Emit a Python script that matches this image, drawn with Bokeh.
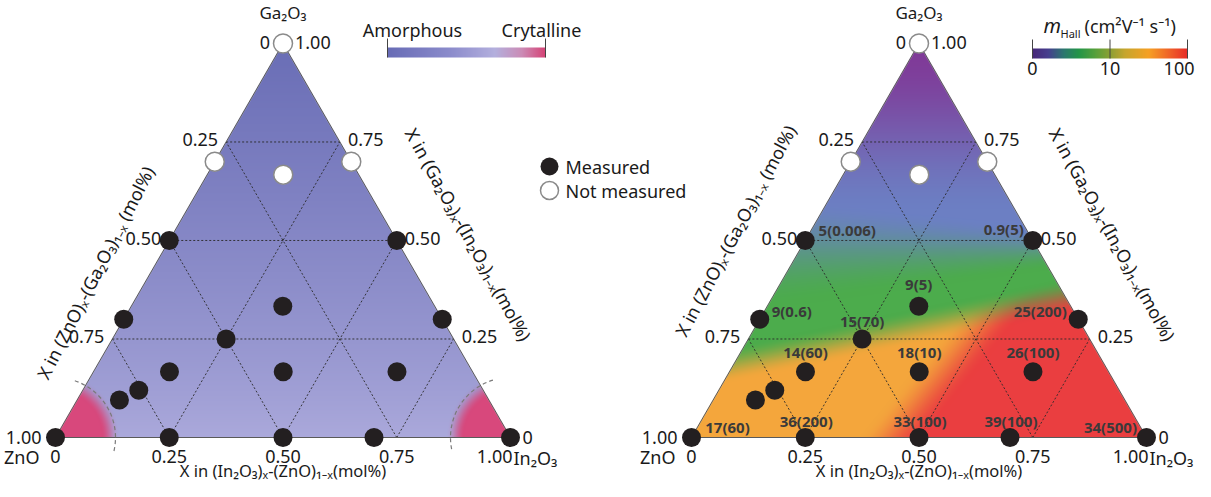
import math
import numpy as np
from bokeh.plotting import figure
from bokeh.models import Range1d
from bokeh.core.properties import value
from bokeh.embed import file_html
from bokeh.resources import INLINE

# ------------------------------------------------------------------ data
# composition of each film: fraction of In2O3 and of Ga2O3 (ZnO = rest)
measured_in2o3 = [0.0, 0.25, 0.50, 0.70, 1.00, 0.167, 0.417, 0.667, 0.25, 0.333, 0.0, 0.70, 0.0, 0.50, 0.093, 0.123]
measured_ga2o3 = [0.0, 0.0, 0.0, 0.0, 0.0, 0.167, 0.167, 0.167, 0.25, 0.333, 0.30, 0.30, 0.50, 0.50, 0.095, 0.12]
mobility_labels = ["17(60)", "36(200)", "33(100)", "39(100)", "34(500)", "14(60)", "18(10)", "26(100)",
                   "15(70)", "9(5)", "9(0.6)", "25(200)", "5(0.006)", "0.9(5)", "", ""]
unmeasured_in2o3 = [0.0, 0.0, 0.30, 0.167]
unmeasured_ga2o3 = [1.0, 0.70, 0.70, 0.667]

grid_levels = [0.25, 0.50, 0.75]
bottom_ticks = [0.0, 0.25, 0.50, 0.75, 1.00]
bottom_tick_labels = ["0", "0.25", "0.50", "0.75", "1.00"]
left_edge_ticks = [0.75, 0.50, 0.25]          # Ga2O3 fraction along ZnO-Ga2O3 edge
left_edge_labels = ["0.25", "0.50", "0.75"]   # ZnO fraction shown
right_edge_ticks = [0.75, 0.50, 0.25]
right_edge_labels = ["0.75", "0.50", "0.25"]
mobility_bar_ticks = [0.0, 0.5, 1.0]
mobility_bar_labels = ["0", "10", "100"]
crystal_bar_labels = ["Amorphous", "Crytalline"]
legend_labels = ["Measured", "Not measured"]

# ------------------------------------------------------------------ layout
FONT = "Noto Sans"
W = 455.0
H = W * math.sqrt(3) / 2
BASE = 497 - 443          # data y of triangle bases
PANELS = [61.0, 697.0]    # x of ZnO corner for each panel


def Y(img_y):
    return 497 - img_y


def tern(a, g, x0):
    return x0 + W * (a + g / 2.0), BASE + H * g


p = figure(width=1195, height=481, x_range=Range1d(6, 1201), y_range=Range1d(10, 491),
           output_backend="svg", toolbar_location=None, min_border=0,
           x_axis_location=None, y_axis_location=None, outline_line_color=None)
p.xgrid.visible = False
p.ygrid.visible = False


def put(x, y, s, size=17, align="center", baseline="middle", angle=0.0, color="#1a1a1a", style="normal"):
    p.text(x=[x], y=[y], text=[s], text_font=value(FONT), text_font_size=value(f"{size}px"),
           text_align=align, text_baseline=baseline, angle=angle, text_color=color,
           text_font_style=style)


def smooth(e0, e1, x):
    t = np.clip((x - e0) / (e1 - e0), 0, 1)
    return t * t * (3 - 2 * t)


def rgba_image(r, g, b, a):
    ny, nx = r.shape
    img = np.empty((ny, nx), dtype=np.uint32)
    v = img.view(dtype=np.uint8).reshape((ny, nx, 4))
    v[:, :, 0] = np.clip(r, 0, 255)
    v[:, :, 1] = np.clip(g, 0, 255)
    v[:, :, 2] = np.clip(b, 0, 255)
    v[:, :, 3] = np.clip(a * 255, 0, 255)
    return img


def tri_field(x0):
    nx, ny = int(W) + 4, int(H) + 4
    xs = x0 - 2 + np.arange(nx) + 0.5
    ys = BASE - 2 + np.arange(ny) + 0.5
    X, Yg = np.meshgrid(xs, ys)
    s60, c60 = math.sin(math.pi / 3), math.cos(math.pi / 3)
    d_base = Yg - BASE
    d_left = (X - x0) * s60 - (Yg - BASE) * c60
    d_right = -(X - x0 - W) * s60 - (Yg - BASE) * c60
    alpha = np.clip(np.minimum(np.minimum(d_base, d_left), d_right) + 0.5, 0, 1)
    u = (X - x0) / W
    g = (Yg - BASE) / H
    return X, Yg, u, g, alpha, (x0 - 2, BASE - 2, nx, ny)


def mix(c1, c2, t):
    return [c1[i] + (c2[i] - c1[i]) * t for i in range(3)]


# ---------------- left panel background (crystallinity)
X, Yg, u, g, alpha, (ix, iy, nx, ny) = tri_field(PANELS[0])
top, bot, pink = (106, 110, 182), (172, 170, 220), (216, 72, 124)
col = mix(bot, top, np.clip(g, 0, 1) ** 0.8)
dL = np.hypot(X - PANELS[0], Yg - BASE)
dR = np.hypot(X - PANELS[0] - W, Yg - BASE)
pk = np.maximum(1 - smooth(46, 64, dL), 1 - smooth(46, 64, dR))
col = mix(col, pink, pk)
p.image_rgba(image=[rgba_image(*col, alpha)], x=ix, y=iy, dw=nx, dh=ny)

# ---------------- right panel background (mobility)
X, Yg, u, g, alpha, (ix, iy, nx, ny) = tri_field(PANELS[1])
purple, blue, green = (128, 58, 152), (108, 128, 196), (76, 172, 76)
orange, red = (244, 166, 60), (234, 62, 64)
c_up = mix(blue, purple, smooth(0.55, 1.0, g))
bg_c = 0.47 + 0.01 * u
bg_w = 0.17 - 0.15 * np.clip(u, 0, 1)
t_g = 1 - smooth(bg_c - bg_w, bg_c + bg_w, g)
c_mid = mix(c_up, green, t_g)
u_or = 0.44 + 0.7 * g
c_low = mix(orange, red, smooth(u_or - 0.07, u_or + 0.07, u))
h_go = 0.165 + 0.235 * u
t_o = 1 - smooth(h_go - 0.045, h_go + 0.045, g)
col = mix(c_mid, c_low, t_o)
p.image_rgba(image=[rgba_image(*col, alpha)], x=ix, y=iy, dw=nx, dh=ny)

# ---------------- per panel structure
for pi, x0 in enumerate(PANELS):
    # dotted grid
    gx, gy = [], []
    for k in grid_levels:
        for (a1, g1, a2, g2) in [(0, k, 1 - k, k), (k, 0, k, 1 - k), (1 - k, 0, 0, 1 - k)]:
            xa, ya = tern(a1, g1, x0)
            xb, yb = tern(a2, g2, x0)
            gx.append([xa, xb])
            gy.append([ya, yb])
    p.multi_line(gx, gy, line_color="#2a2a2a", line_dash="2 2", line_width=1, line_alpha=0.9)
    # outline
    vx = [tern(0, 0, x0)[0], tern(1, 0, x0)[0], tern(0, 1, x0)[0], tern(0, 0, x0)[0]]
    vy = [tern(0, 0, x0)[1], tern(1, 0, x0)[1], tern(0, 1, x0)[1], tern(0, 0, x0)[1]]
    p.line(vx, vy, line_color="#5a5a5a", line_width=1)

    if pi == 0:
        p.arc(x=[x0], y=[BASE], radius=60, start_angle=math.radians(-13), end_angle=math.radians(73),
              line_color="#7a7a7a", line_dash="4 3", line_width=1.2)
        p.arc(x=[x0 + W], y=[BASE], radius=60, start_angle=math.radians(107), end_angle=math.radians(193),
              line_color="#7a7a7a", line_dash="4 3", line_width=1.2)

    # points
    mx = [tern(a, gg, x0)[0] for a, gg in zip(measured_in2o3, measured_ga2o3)]
    my = [tern(a, gg, x0)[1] for a, gg in zip(measured_in2o3, measured_ga2o3)]
    p.scatter(mx, my, size=19, fill_color="#231f20", line_color=None)
    ux = [tern(a, gg, x0)[0] for a, gg in zip(unmeasured_in2o3, unmeasured_ga2o3)]
    uy = [tern(a, gg, x0)[1] for a, gg in zip(unmeasured_in2o3, unmeasured_ga2o3)]
    p.scatter(ux, uy, size=19, fill_color="white", line_color="#8a8a8a", line_width=1.5)

    # corner and tick labels
    ax_, ay_ = tern(0, 1, x0)
    put(ax_, ay_ + 31, "Ga₂O₃")
    put(ax_ - 13, ay_ + 1, "0", size=18, align="right")
    put(ax_ + 12, ay_ + 1, "1.00", size=18, align="left")
    for gg, lab in zip(left_edge_ticks, left_edge_labels):
        ex, ey = tern(0, gg, x0)
        put(ex - 8, ey + 2, lab, size=18, align="right")
    for gg, lab in zip(right_edge_ticks, right_edge_labels):
        ex, ey = tern(1 - gg, gg, x0)
        put(ex + 8, ey + 2, lab, size=18, align="left")
    put(x0 - 14, BASE, "1.00", size=18, align="right")
    put(x0 + W + 12, BASE, "0", size=18, align="left")
    for a, lab in zip(bottom_ticks, bottom_tick_labels):
        bx = x0 + W * a
        if a >= 1.0:
            put(bx + 2, BASE - 19, lab, size=18, align="right")
        else:
            put(bx, BASE - 19, lab, size=18)
    put(x0 - 16, BASE - 19, "ZnO", size=18, align="right")
    put(x0 + W + 3, BASE - 20, "In₂O₃", size=18, align="left")
    put(x0 + W / 2, Y(476), "X in (In₂O₃)ₓ-(ZnO)₁₋ₓ(mol%)", size=16.5)

# rotated edge titles
put(101, Y(278), "X in (ZnO)ₓ-(Ga₂O₃)₁₋ₓ (mol%)", size=18, angle=math.radians(63))
put(474, Y(240), "X in (Ga₂O₃)ₓ-(In₂O₃)₁₋ₓ(mol%)", size=18, angle=math.radians(-61))
put(741, Y(236), "X in (ZnO)ₓ-(Ga₂O₃)₁₋ₓ (mol%)", size=18, angle=math.radians(62))
put(1118, Y(240), "X in (Ga₂O₃)ₓ-(In₂O₃)₁₋ₓ(mol%)", size=18, angle=math.radians(-61))

# mobility value labels (right panel)
label_offsets = [(36, -11), (1, -17), (1, -17), (1, -17), (-36, -11), (0, -20), (0, -20), (0, -20),
                 (0, -18), (0, -22), (32, -8), (-38, -8), (42, -10), (-29, -11), (0, 0), (0, 0)]
for a, gg, lab, (dx, dy) in zip(measured_in2o3, measured_ga2o3, mobility_labels, label_offsets):
    if lab:
        px, py = tern(a, gg, PANELS[1])
        put(px + dx, py - dy, lab, size=15, color="#3a3a3a", style="bold")

# legend
p.scatter([555], [Y(172)], size=18, fill_color="#231f20", line_color=None)
p.scatter([555], [Y(196)], size=18, fill_color="white", line_color="#8a8a8a", line_width=1.5)
put(571, Y(172), legend_labels[0], size=18, align="left")
put(571, Y(196), legend_labels[1], size=18, align="left")


# colour bars
def bar(x_left, x_right, y_top_img, y_bot_img, pos, cols):
    n = int(x_right - x_left)
    t = (np.arange(n) + 0.5) / n
    ch = [np.interp(t, pos, [c[i] for c in cols]) for i in range(3)]
    r = np.tile(ch[0], (2, 1)); gch = np.tile(ch[1], (2, 1)); b = np.tile(ch[2], (2, 1))
    p.image_rgba(image=[rgba_image(r, gch, b, np.ones_like(r))], x=x_left, y=Y(y_bot_img),
                 dw=x_right - x_left, dh=y_bot_img - y_top_img)


crystal_stops = [0.0, 0.4, 0.68, 0.85, 1.0]
crystal_cols = [(104, 108, 182), (140, 140, 204), (180, 176, 222), (204, 140, 182), (214, 68, 118)]
bar(393, 551, 53, 63, crystal_stops, crystal_cols)
p.multi_line([[393, 393], [551, 551]], [[Y(44), Y(63)], [Y(44), Y(63)]], line_color="#444", line_width=1)
put(418, Y(35), crystal_bar_labels[0], size=18)
put(547, Y(35), crystal_bar_labels[1], size=18)

mob_stops = [0.0, 0.1, 0.2, 0.3, 0.4, 0.5, 0.6, 0.75, 0.88, 1.0]
mob_cols = [(72, 40, 122), (70, 62, 142), (44, 118, 112), (36, 150, 72), (84, 160, 60), (140, 160, 52),
            (200, 166, 46), (246, 160, 36), (240, 100, 40), (232, 44, 40)]
bar(1038, 1193, 54, 64, mob_stops, mob_cols)
tx = [1038 + 155 * t for t in mobility_bar_ticks]
p.multi_line([[x, x] for x in tx], [[Y(45), Y(64)] for _ in tx], line_color="#444", line_width=1)
for x, lab in zip(tx, mobility_bar_labels):
    if lab == "100":
        put(1200, Y(74), lab, size=18, align="right")
    else:
        put(x, Y(74), lab, size=18)
put(1049, Y(31), "m", size=20, align="left", style="italic")
put(1066, Y(39), "Hall", size=11, align="left")
put(1090, Y(31), "(cm²V⁻¹ s⁻¹)", size=18, align="left")

open("out.html", "w").write(file_html(p, INLINE))
